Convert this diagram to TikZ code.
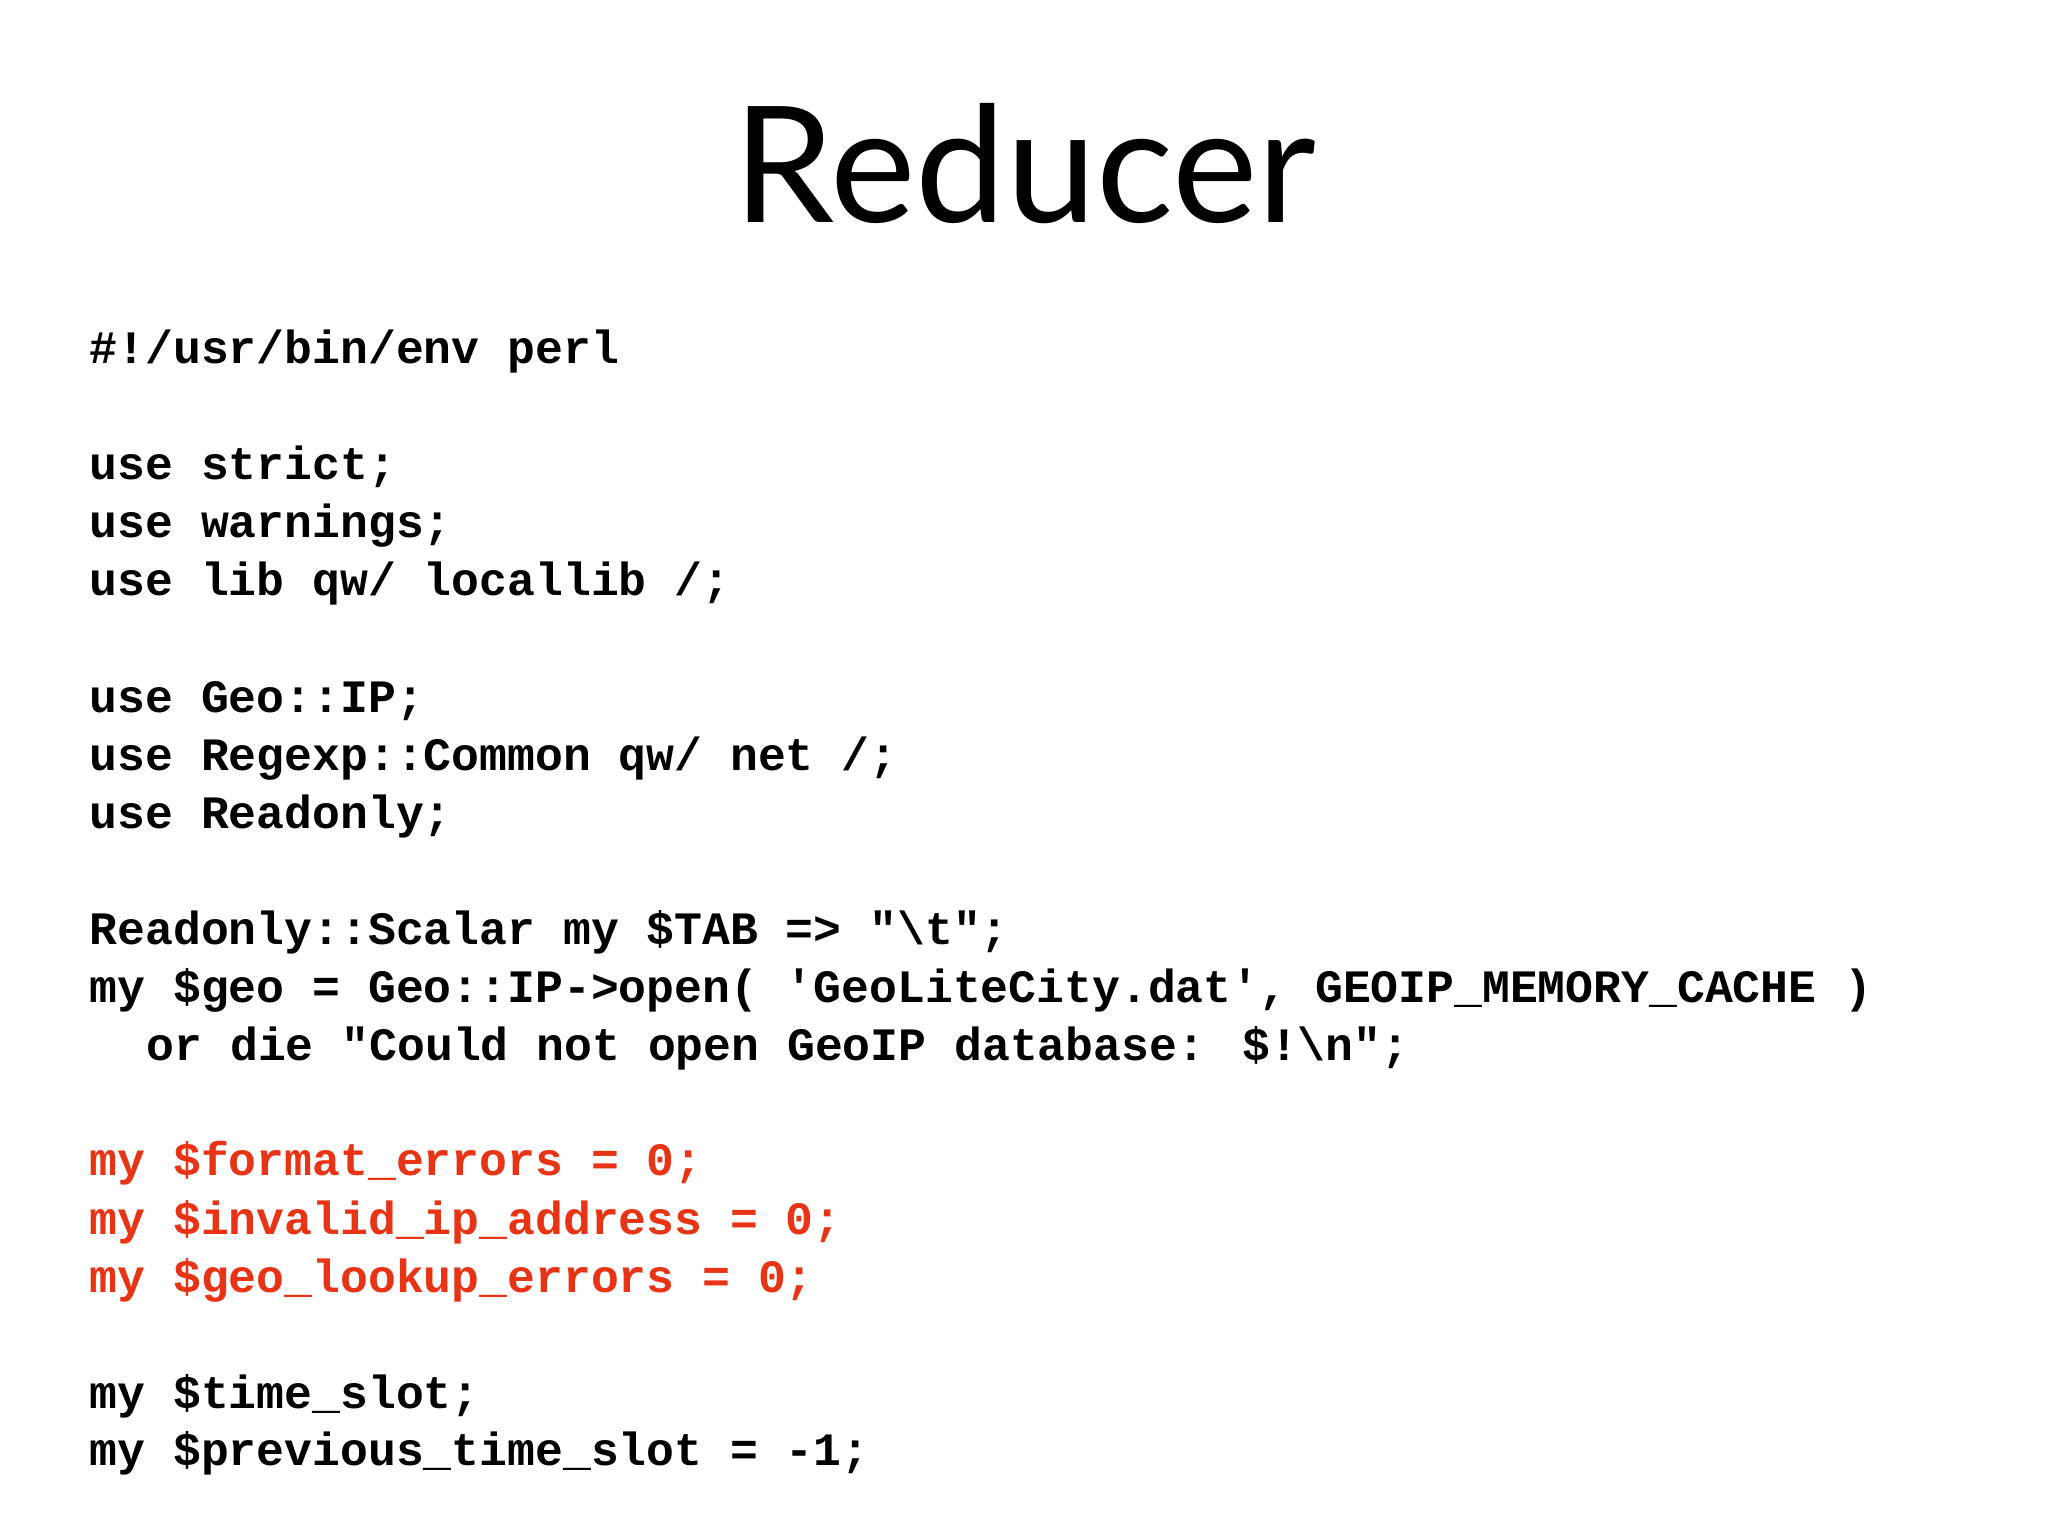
\documentclass[tikz,border=0pt]{standalone}
\usepackage{fontspec}
\newfontfamily\code{Liberation Mono}[BoldFont={Liberation Mono Bold}]
\newfontfamily\titlefont{Lato}
\definecolor{codered}{RGB}{232,52,20}
\begin{document}
\begin{tikzpicture}[x=0.01cm,y=-0.01cm,
  ln/.style={anchor=base west,inner sep=0pt,font=\code\bfseries\fontsize{13.2pt}{15pt}\selectfont},
  rd/.style={ln,text=codered}]
\useasboundingbox[fill=white] (0,0) rectangle (2048,1536);
\node[font=\titlefont\fontsize{46pt}{50pt}\selectfont,anchor=base] (title) at (1025,222) {Reducer};
\node[ln] (l1) at (89,363) {\#!/usr/bin/env perl};
\node[ln] (l2) at (89,479) {use strict;};
\node[ln] (l3) at (89,537) {use warnings;};
\node[ln] (l4) at (89,595) {use lib qw/ locallib /;};
\node[ln] (l5) at (89,712) {use Geo::IP;};
\node[ln] (l6) at (89,770) {use Regexp::Common qw/ net /;};
\node[ln] (l7) at (89,828) {use Readonly;};
\node[ln] (l8) at (89,944) {Readonly::Scalar my \$TAB => "\textbackslash t";};
\node[ln] (l9) at (89,1002) {my \$geo = Geo::IP->open( 'GeoLiteCity.dat', GEOIP\_MEMORY\_CACHE )};
\node[ln] (l10) at (146,1060) {or die "Could not open GeoIP database: \$!\textbackslash n";};
\node[rd] (l11) at (89,1175) {my \$format\_errors = 0;};
\node[rd] (l12) at (89,1234) {my \$invalid\_ip\_address = 0;};
\node[rd] (l13) at (89,1292) {my \$geo\_lookup\_errors = 0;};
\node[ln] (l14) at (89,1408) {my \$time\_slot;};
\node[ln] (l15) at (89,1465) {my \$previous\_time\_slot = -1;};
\end{tikzpicture}
\end{document}
